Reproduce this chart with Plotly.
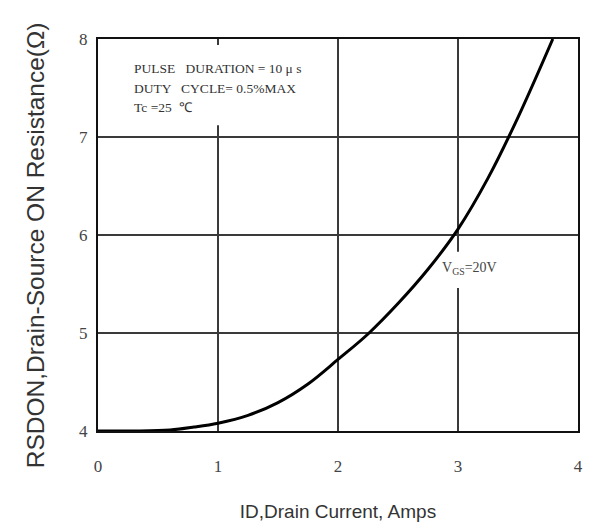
import plotly.graph_objects as go

# Data
drain_current = [0.0, 0.3, 0.6, 0.8, 1.0, 1.25, 1.5, 1.75, 2.0, 2.25, 2.5, 2.75, 3.0, 3.25, 3.5, 3.79]
rds_on = [4.0, 4.0, 4.01, 4.04, 4.08, 4.16, 4.29, 4.48, 4.73, 4.99, 5.30, 5.65, 6.06, 6.58, 7.2, 8.0]
x_ticks = [0, 1, 2, 3, 4]
y_ticks = [4, 5, 6, 7, 8]
note_lines = ["PULSE &nbsp;&nbsp;DURATION = 10 μ s", "DUTY &nbsp;&nbsp;CYCLE= 0.5%MAX", "Tc =25 &nbsp;℃"]
note_y = [7.70, 7.50, 7.30]

fig = go.Figure()
fig.add_trace(go.Scatter(
    x=drain_current, y=rds_on, mode="lines",
    line=dict(color="black", width=3, shape="spline", smoothing=1.0),
    showlegend=False, hoverinfo="skip",
))

serif = "Liberation Serif, Times New Roman, serif"
sans = "Liberation Sans, Arial, sans-serif"

annotations = [
    dict(x=0.28, y=yy, xref="x", yref="y", xanchor="left", yanchor="middle",
         text=t, showarrow=False, align="left",
         font=dict(family=serif, size=13.5, color="#333"))
    for t, yy in zip(note_lines, note_y)
]
annotations.append(dict(
    x=2.85, y=5.66, xref="x", yref="y", xanchor="left", yanchor="middle",
    text="V<sub>GS</sub>=20V", showarrow=False,
    font=dict(family=serif, size=14, color="#444"),
))
# y-axis title (placed as rotated text to match the reference position)
annotations.append(dict(
    x=-0.131, y=0.474, xref="paper", yref="paper", xanchor="center", yanchor="middle",
    text="RSDON,Drain-Source ON Resistance(Ω)", textangle=-90, showarrow=False,
    font=dict(family=sans, size=24.5, color="#333"),
))

fig.update_layout(
    width=597, height=531,
    margin=dict(l=90, r=27, t=31, b=108),
    paper_bgcolor="white", plot_bgcolor="white",
    xaxis=dict(
        range=[0, 4], tickvals=x_ticks, showgrid=True, gridcolor="#3a3a3a", gridwidth=1.5,
        showline=True, linecolor="#111", linewidth=2, mirror=True, zeroline=False,
        ticks="", ticklabelstandoff=19, automargin=False,
        tickfont=dict(family=serif, size=17, color="#444"),
        title=dict(text="ID,Drain Current, Amps", font=dict(family=sans, size=19, color="#333"), standoff=29),
    ),
    yaxis=dict(
        range=[4, 8], tickvals=y_ticks, showgrid=True, gridcolor="#3a3a3a", gridwidth=1.5,
        showline=True, linecolor="#111", linewidth=2, mirror=True, zeroline=False,
        ticks="", ticklabelstandoff=5, automargin=False,
        tickfont=dict(family=serif, size=17, color="#444"),
    ),
    shapes=[
        dict(type="rect", xref="x", yref="y", x0=0.1, x1=1.9, y0=7.12, y1=7.94,
             fillcolor="white", line=dict(width=0), layer="between"),
        dict(type="rect", xref="x", yref="y", x0=2.78, x1=3.39, y0=5.46, y1=5.83,
             fillcolor="white", line=dict(width=0), layer="between"),
    ],
    annotations=annotations,
)

fig.write_html("out.html")
